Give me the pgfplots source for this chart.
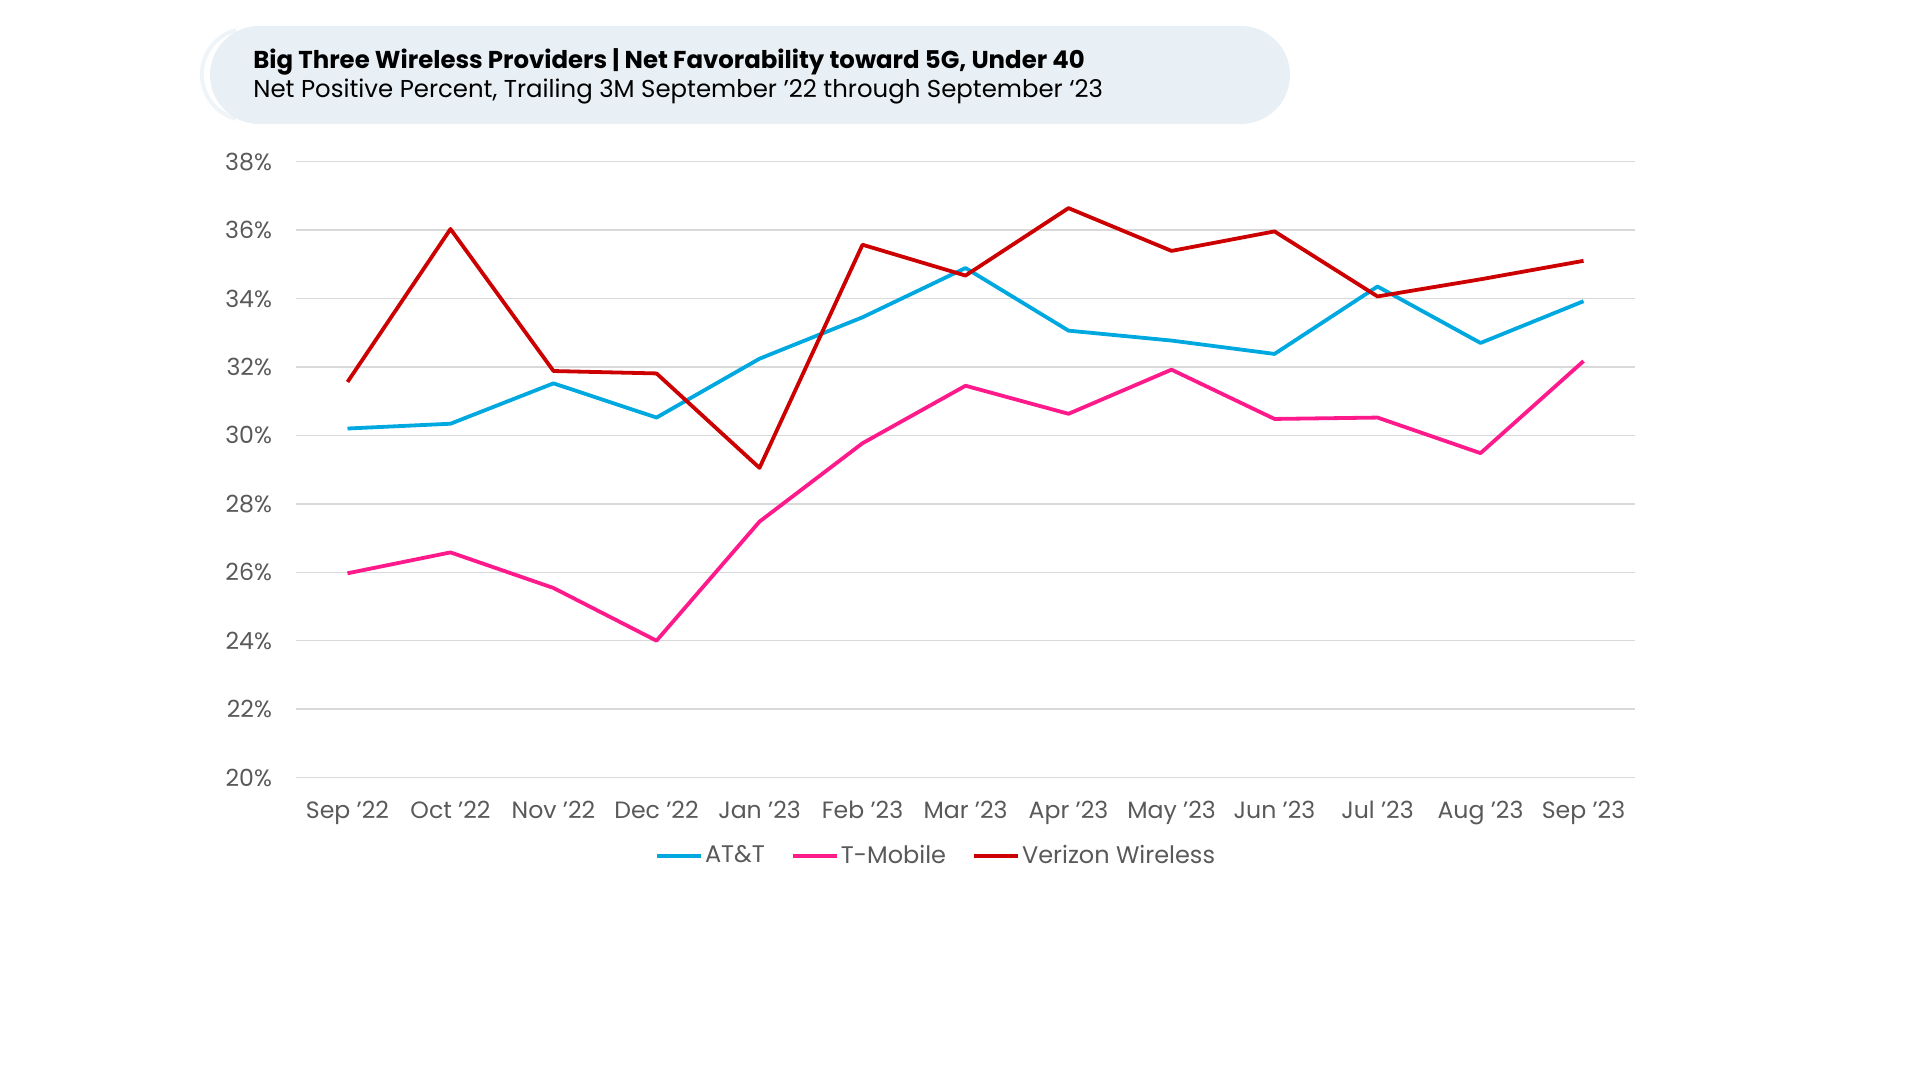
\documentclass[border=0pt]{standalone}
\usepackage{pgfplots}
\pgfplotsset{compat=1.18}
\usepackage{fontspec}
\setmainfont{Poppins}
\definecolor{att}{HTML}{00A8E0}
\definecolor{tmo}{HTML}{FF1A8C}
\definecolor{vzw}{HTML}{CC0000}
\definecolor{pill}{HTML}{E8EFF5}
\definecolor{txtgray}{HTML}{595959}
\definecolor{gridgray}{HTML}{D9D9D9}
\begin{document}
\begin{tikzpicture}[x=1pt,y=1pt]
\path[use as bounding box] (0,0) rectangle (960,540);
\draw[pill!70, line width=2pt] (118,525) arc[start angle=105, end angle=255, radius=23];
\fill[pill, rounded corners=24.5pt] (105,478) rectangle (645,527);
\node[anchor=base west, inner sep=0pt, font=\fontsize{12.2}{14}\selectfont\bfseries] at (126.5,505.7) {Big Three Wireless Providers | Net Favorability toward 5G, Under 40};
\node[anchor=base west, inner sep=0pt, font=\fontsize{12.2}{14}\selectfont] at (126.5,491.2) {Net Positive Percent, Trailing 3M September ’22 through September ‘23};
\begin{axis}[
  at={(148pt,151.2pt)}, anchor=south west,
  scale only axis, width=669.5pt, height=308pt,
  xmin=-0.5, xmax=12.5, ymin=20, ymax=38,
  xtick={0,...,12},
  xticklabels={Sep '22,Oct '22,Nov '22,Dec '22,Jan '23,Feb '23,Mar '23,Apr '23,May '23,Jun '23,Jul '23,Aug '23,Sep '23},
  ytick={20,22,...,38},
  yticklabel={\pgfmathprintnumber{\tick}\%},
  /pgf/number format/assume math mode=true,
  ymajorgrids, grid style={gridgray, line width=0.7pt},
  axis line style={draw=none},
  major tick style={draw=none},
  tick label style={font=\fontsize{11.8}{13}\selectfont, text=txtgray},
  xticklabel style={yshift=-8pt},
  yticklabel style={xshift=-8.5pt},
  legend style={at={(0.478,-0.127)}, anchor=center, draw=none, fill=none,
    legend columns=3, font=\fontsize{12}{13}\selectfont, text=txtgray,
    nodes={inner xsep=1pt},
    /tikz/every even column/.append style={column sep=12pt}},
  legend image code/.code={\draw[#1, line width=2pt] (0pt,0pt) -- (22pt,0pt);},
  every axis plot/.append style={line width=1.9pt, mark=none, line join=round},
]
\addplot[att] coordinates {(0,30.20) (1,30.34) (2,31.52) (3,30.52) (4,32.24) (5,33.45) (6,34.89) (7,33.06) (8,32.77) (9,32.38) (10,34.35) (11,32.70) (12,33.92)};
\addlegendentry{AT\&T}
\addplot[tmo] coordinates {(0,25.97) (1,26.58) (2,25.54) (3,24.00) (4,27.48) (5,29.77) (6,31.45) (7,30.63) (8,31.92) (9,30.48) (10,30.52) (11,29.48) (12,32.17)};
\addlegendentry{T-Mobile}
\addplot[vzw] coordinates {(0,31.56) (1,36.03) (2,31.88) (3,31.81) (4,29.05) (5,35.57) (6,34.67) (7,36.64) (8,35.39) (9,35.96) (10,34.06) (11,34.56) (12,35.10)};
\addlegendentry{Verizon Wireless}
\end{axis}
\end{tikzpicture}
\end{document}
